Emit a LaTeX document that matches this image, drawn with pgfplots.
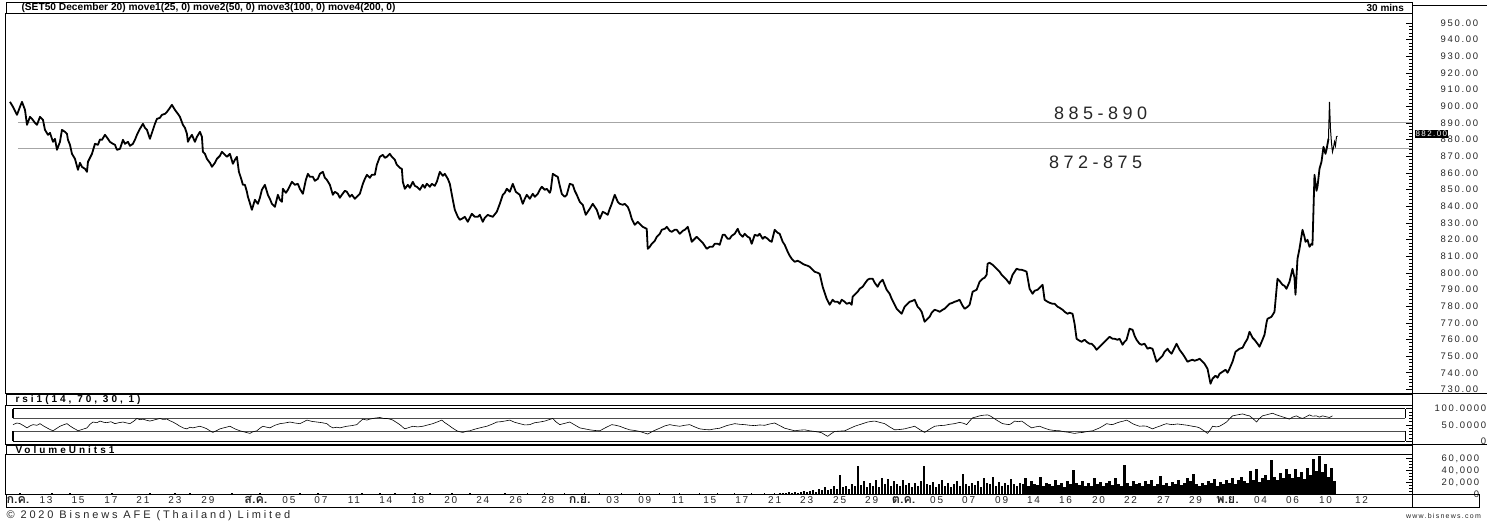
\documentclass[border=0pt]{standalone}
\usepackage{pgfplots}
\pgfplotsset{compat=1.18}
\usepackage{fontspec}
\setmainfont{Liberation Sans}
\newfontfamily\spfont[LetterSpace=18]{Liberation Sans}
\newfontfamily\cpfont[LetterSpace=26]{Liberation Sans}
\newfontfamily\hdfont[LetterSpace=30]{Liberation Sans}
\newfontfamily\bigfont[LetterSpace=25]{Liberation Sans}
\newfontfamily\thaifont[Script=Thai]{Loma}
\newcommand{\thm}[1]{{\thaifont\bfseries\fontsize{12.5}{12}\selectfont #1}}
\pgfplotsset{panel/.style={scale only axis, anchor=north west, width=1407pt, xmin=6, xmax=1413,
  axis line style={line width=1pt}, tick align=inside, ytick pos=right, yticklabel pos=right,
  xtick=\empty, scaled y ticks=false, /pgf/number format/assume math mode=true,
  yticklabel style={anchor=east, inner sep=0pt, font=\spfont\fontsize{9.5}{10}\selectfont, text=black!85},
  major tick length=6pt, minor tick length=3pt, tick style={black, line width=0.5pt}}}
\begin{document}
\begin{tikzpicture}
\path (0pt,0pt) rectangle (1488pt,-522pt);
% ---------- price panel ----------
\begin{axis}[panel, at={(6pt,-12pt)}, height=380pt, ymin=727.4, ymax=955.4,
  ytick={730,740,...,950}, minor y tick num=4,
  yticklabel={\pgfmathprintnumber[fixed,fixed zerofill,precision=2,1000 sep={}]{\tick}},
  yticklabel style={xshift=66pt}]
\addplot[gray!70, line width=0.8pt] coordinates {(18,890)(1413,890)};
\addplot[gray!70, line width=0.8pt] coordinates {(18,874.5)(1413,874.5)};
\addplot[black, line width=1.8pt, line join=round] coordinates {
(10,902.6)(13,899.6)(17,894.8)(20,899.6)(22,902.6)(25,897.8)(27,888.8)(30,893.6)(32,892.4)(35,890.0)
(37,888.8)(40,893.6)(43,891.8)(45,885.8)(48,882.8)(50,884.0)(53,878.6)(55,880.4)(57,873.8)(60,878.6)
(62,885.8)(65,884.6)(67,883.4)(68,879.8)(70,876.8)(72,871.4)(75,868.4)(78,861.8)(80,866.0)(82,863.6)
(85,862.4)(87,860.6)(88,866.6)(90,869.0)(92,871.4)(95,877.4)(98,876.8)(100,880.0)(102,879.8)(105,882.8)
(108,880.4)(110,878.6)(113,877.4)(115,876.8)(117,873.8)(120,874.4)(123,879.8)(125,877.4)(128,878.6)(130,876.2)
(133,877.4)(135,879.8)(137,882.8)(140,886.4)(143,889.4)(145,887.0)(147,885.8)(150,880.4)(153,885.8)(155,889.4)
(157,892.4)(160,893.0)(162,894.8)(165,895.4)(167,896.6)(170,899.0)(172,900.8)(175,897.8)(178,895.4)(180,893.6)
(183,888.8)(185,887.0)(187,883.4)(188,878.6)(190,881.0)(192,882.8)(195,878.6)(197,881.6)(200,884.6)(202,881.6)
(203,872.6)(205,871.4)(207,868.4)(210,866.0)(212,863.6)(215,866.0)(217,868.4)(220,870.2)(222,872.6)(225,870.8)
(227,869.6)(230,871.4)(233,865.4)(235,867.8)(237,869.6)(239,860.6)(241,857.0)(243,852.8)(245,852.8)(247,848.6)
(248,845.6)(249,843.8)(252,837.8)(255,843.8)(258,841.4)(260,845.0)(262,849.8)(265,852.8)(268,846.8)(270,844.4)
(272,841.4)(275,839.6)(278,846.8)(280,843.8)(282,842.6)(283,850.4)(286,848.0)(288,849.8)(290,852.2)(292,854.6)
(295,852.8)(298,853.4)(300,850.4)(303,847.4)(306,855.8)(308,859.4)(310,857.6)(313,857.6)(315,855.2)(318,856.4)
(320,859.4)(323,860.6)(325,857.0)(327,855.8)(330,852.8)(333,846.8)(335,848.6)(338,847.4)(340,845.0)(342,846.8)
(345,849.2)(347,848.6)(350,845.6)(352,846.8)(355,844.4)(357,845.6)(360,847.4)(363,853.4)(365,856.4)(367,858.8)
(370,857.0)(372,858.8)(375,858.8)(377,864.8)(380,869.6)(383,870.8)(385,869.0)(387,869.6)(390,871.4)(392,869.6)
(395,867.8)(397,864.8)(400,863.0)(402,862.4)(403,854.6)(405,850.4)(408,852.8)(410,851.0)(413,854.6)(415,852.2)
(417,851.6)(420,849.8)(423,852.8)(425,851.0)(427,853.4)(430,851.6)(432,853.4)(435,852.2)(437,854.6)(440,860.6)
(443,858.2)(445,859.4)(448,856.4)(450,853.4)(453,843.8)(455,837.8)(458,833.6)(460,831.8)(462,832.4)(465,833.6)
(468,830.6)(470,833.0)(472,835.4)(475,833.6)(478,833.6)(480,834.8)(483,830.6)(485,833.0)(488,834.8)(490,834.2)
(493,833.6)(497,836.6)(500,841.4)(503,846.8)(505,848.0)(507,850.4)(510,848.6)(513,853.4)(516,848.6)(520,846.8)
(523,841.4)(525,844.4)(527,846.8)(530,844.4)(533,847.4)(535,845.6)(538,847.4)(540,849.8)(542,851.6)(545,849.8)
(547,850.4)(550,848.0)(551,849.8)(553,859.4)(556,858.2)(558,857.6)(560,852.2)(562,847.4)(565,845.6)(567,846.8)
(570,853.4)(573,852.8)(575,849.2)(577,846.8)(580,842.6)(583,840.8)(586,834.8)(588,836.6)(590,838.4)(593,841.4)
(595,839.6)(597,837.8)(600,832.4)(603,836.6)(605,836.0)(608,834.8)(610,838.4)(612,841.4)(615,846.8)(618,842.6)
(620,841.4)(623,840.8)(625,841.4)(628,839.6)(630,836.6)(632,832.4)(635,828.8)(638,830.6)(640,829.4)(643,827.6)
(647,826.4)(648,814.4)(650,815.6)(652,817.4)(655,819.2)(657,821.6)(660,823.4)(662,825.8)(665,826.4)(667,827.6)
(670,825.2)(672,824.6)(675,825.8)(677,825.8)(680,823.4)(683,825.2)(685,825.8)(688,827.6)(690,823.4)(692,818.6)
(695,820.4)(697,821.6)(700,819.8)(703,818.0)(707,814.4)(710,815.6)(713,815.6)(715,817.4)(718,817.4)(720,816.8)
(723,822.8)(725,822.8)(728,820.4)(730,820.4)(732,822.2)(735,823.4)(738,826.4)(740,823.4)(743,821.6)(745,823.4)
(748,821.6)(750,821.0)(752,817.4)(755,822.8)(758,822.2)(760,823.4)(763,820.4)(765,821.6)(768,820.4)(770,819.2)
(772,818.6)(775,825.8)(778,824.0)(780,823.4)(783,818.6)(785,816.8)(788,812.6)(790,810.2)(792,808.4)(795,806.6)
(798,807.2)(800,806.6)(803,805.4)(805,804.8)(808,804.2)(810,803.6)(813,801.8)(815,800.6)(818,800.0)(820,799.4)
(823,791.6)(825,788.0)(827,784.4)(830,780.8)(833,783.8)(835,782.6)(838,782.6)(840,781.4)(842,783.8)(845,782.6)
(847,781.4)(850,782.0)(852,780.8)(853,785.6)(855,786.8)(858,788.6)(860,790.4)(863,791.6)(865,793.4)(868,795.8)
(870,796.4)(873,796.4)(875,794.0)(878,791.6)(880,794.0)(883,795.8)(885,792.8)(887,789.8)(890,787.4)(892,784.4)
(895,780.8)(897,778.4)(900,776.6)(902,775.4)(905,779.6)(908,781.4)(910,782.6)(913,783.2)(915,783.8)(918,779.6)
(920,778.4)(922,776.6)(925,770.6)(927,771.8)(930,773.6)(932,776.0)(935,777.8)(938,777.2)(940,776.6)(943,777.8)
(945,778.4)(948,780.2)(950,781.4)(953,782.0)(955,782.6)(958,783.2)(960,783.8)(963,780.2)(965,778.4)(968,779.6)
(970,780.8)(973,788.6)(975,789.2)(977,789.8)(980,794.6)(983,796.4)(985,797.0)(987,798.8)(988,805.4)(990,806.0)
(993,804.8)(995,803.6)(998,801.8)(1000,800.6)(1002,798.8)(1005,797.0)(1007,795.8)(1010,793.4)(1013,798.8)(1015,800.6)
(1017,802.4)(1020,801.8)(1022,801.8)(1025,801.2)(1027,800.6)(1030,790.4)(1033,787.4)(1035,789.2)(1038,789.8)(1040,791.0)
(1043,792.8)(1045,783.8)(1048,782.6)(1050,782.0)(1053,781.4)(1055,781.4)(1058,779.6)(1060,779.0)(1063,777.8)(1065,776.6)
(1068,775.4)(1070,776.0)(1073,775.4)(1075,769.4)(1077,760.4)(1080,759.2)(1082,758.6)(1085,759.8)(1087,758.6)(1090,757.4)
(1092,757.4)(1095,755.6)(1097,753.8)(1100,755.6)(1102,756.8)(1105,758.6)(1108,760.4)(1110,761.6)(1113,760.4)(1115,760.4)
(1118,759.8)(1120,760.4)(1123,756.8)(1125,758.6)(1127,759.8)(1130,766.4)(1133,765.8)(1135,762.2)(1137,759.8)(1140,757.4)
(1142,756.8)(1145,757.4)(1148,754.4)(1150,755.0)(1153,754.4)(1157,746.6)(1160,748.4)(1163,750.2)(1165,752.6)(1168,754.4)
(1170,752.6)(1172,751.4)(1175,755.0)(1177,757.4)(1180,753.8)(1183,751.4)(1185,749.6)(1188,746.6)(1190,747.2)(1193,747.8)
(1195,747.2)(1198,747.8)(1200,748.4)(1203,746.6)(1205,745.4)(1208,742.4)(1211,733.4)(1213,736.4)(1216,738.2)(1218,737.0)
(1220,739.4)(1223,740.6)(1226,741.8)(1228,740.0)(1230,742.4)(1233,746.6)(1236,752.6)(1240,754.4)(1243,755.0)(1245,757.4)
(1248,760.4)(1250,764.6)(1253,761.0)(1255,759.8)(1258,757.4)(1260,755.6)(1263,759.8)(1265,762.8)(1267,770.0)(1268,772.4)
(1272,773.6)(1275,776.6)(1278,796.4)(1280,795.2)(1283,792.8)(1285,792.2)(1287,790.4)(1290,794.6)(1293,802.4)(1295,797.0)
(1296,786.8)(1298,808.4)(1300,814.4)(1303,825.8)(1305,821.6)(1306,818.6)(1308,819.8)(1310,815.6)(1312,817.4)(1313,816.8)
(1314,837.8)(1315,858.8)(1317,849.2)(1318,851.6)(1320,862.4)(1322,866.6)(1324,875.6)(1326,871.4)(1327,873.8)(1329,880.4)};
\addplot[black, line width=1pt] coordinates {(1329,880.4)(1330,902.6)(1331,886.4)(1332,878.0)(1333,872.6)(1334,875.0)(1335,878.6)(1336,876.2)(1337,881.6)(1338,882.0)};
\node[font=\bigfont\fontsize{18}{20}\selectfont, text=black!85] at (axis cs:1101,896) {885-890};
\node[font=\bigfont\fontsize{18}{20}\selectfont, text=black!85] at (axis cs:1096,866.6) {872-875};
\coordinate (lastp) at (axis cs:1413,883.2);
\end{axis}
\node[anchor=west, fill=black, text=white, inner sep=0.9pt, font=\spfont\fontsize{8}{8}\selectfont] at ([xshift=2pt]lastp) {882.00};
% header
\draw[line width=0.8pt] (6pt,-0.5pt) rectangle (1413pt,-12pt);
\draw[line width=0.8pt] (1413pt,-4pt) -- (1488pt,-4pt);
\node[anchor=west, font=\bfseries\fontsize{10.2}{11}\selectfont] at (18pt,-6.2pt) {(SET50 December 20) move1(25, 0) move2(50, 0) move3(100, 0) move4(200, 0)};
\node[anchor=east, font=\bfseries\fontsize{10}{11}\selectfont] at (1408pt,-6.2pt) {30 mins};
% ---------- RSI panel ----------
\begin{axis}[panel, at={(6pt,-404pt)}, height=39pt, ymin=-10.8, ymax=109.2,
  ytick={0,50,100}, yticklabels={0,50.0000,100.0000}, minor y tick num=4,
  yticklabel style={xshift=74pt}]
\addplot[black, line width=0.9pt] coordinates {(13,100)(1406,100)};
\addplot[black!70, line width=0.7pt] coordinates {(13,70)(1406,70)};
\addplot[black!70, line width=0.7pt] coordinates {(13,30)(1406,30)};
\addplot[black, line width=0.9pt] coordinates {(13,0)(1406,0)};
\addplot[black, line width=1.6pt] coordinates {(13,100)(13,70)};
\addplot[black, line width=1.6pt] coordinates {(13,30)(13,0)};
\addplot[black, line width=1.6pt] coordinates {(1406,100)(1406,70)};
\addplot[black, line width=1.6pt] coordinates {(1406,30)(1406,0)};
\addplot[black, line width=0.6pt, line join=round] coordinates {
(13,51)(17,56)(20,54)(24,47)(27,41)(30,47)(33,51)(37,49)(40,54)(44,46)(47,41)(50,36)(53,32)(57,40)(60,46)(64,51)
(67,54)(70,47)(73,41)(76,36)(78,32)(83,37)(87,41)(90,52)(93,59)(97,57)(100,62)(104,58)(107,57)(111,60)(115,54)(119,57)
(123,59)(127,56)(130,54)(134,62)(137,70)(140,66)(143,68)(147,64)(150,62)(155,66)(160,70)(163,67)(167,68)(170,63)
(173,59)(177,52)(180,46)(184,40)(187,38)(190,43)(193,41)(197,44)(200,46)(204,42)(207,38)(210,32)(213,27)(217,33)
(220,38)(225,42)(230,46)(235,38)(240,32)(245,28)(250,24)(253,29)(257,32)(260,40)(263,46)(267,43)(270,41)(275,49)
(280,54)(285,56)(290,59)(295,56)(300,54)(304,60)(307,65)(312,61)(317,59)(322,57)(327,54)(330,46)(333,41)(337,43)
(340,41)(344,44)(347,46)(352,48)(357,51)(360,60)(363,68)(367,65)(370,68)(375,71)(380,73)(384,70)(387,70)(390,68)
(393,65)(397,57)(400,51)(403,43)(405,38)(409,42)(413,46)(418,44)(423,46)(428,50)(433,54)(438,60)(442,65)(445,57)
(448,51)(452,42)(457,32)(460,29)(463,27)(467,31)(470,32)(475,37)(480,41)(484,44)(487,46)(492,52)(497,59)(501,60)
(505,62)(510,65)(515,58)(520,54)(525,50)(530,51)(535,57)(540,59)(545,62)(549,66)(553,70)(556,60)(560,51)(565,55)
(570,59)(575,50)(580,41)(585,38)(590,35)(595,33)(600,32)(606,42)(612,51)(616,49)(620,46)(625,40)(630,35)(635,33)
(640,30)(644,26)(648,22)(654,32)(660,40)(665,47)(670,51)(675,48)(680,46)(685,49)(690,51)(695,44)(700,38)(705,36)
(710,35)(715,38)(720,40)(727,48)(735,54)(740,52)(745,51)(750,49)(755,48)(760,50)(765,49)(770,53)(775,56)(780,48)
(785,40)(790,36)(795,32)(800,34)(805,35)(810,32)(815,30)(819,28)(822,26)(825,20)(828,15)(831,22)(835,30)(840,31)
(845,32)(850,39)(855,46)(861,52)(868,59)(872,61)(875,62)(880,58)(885,54)(890,44)(895,35)(900,36)(905,38)(910,42)
(915,46)(920,36)(925,27)(930,37)(935,46)(940,48)(945,49)(950,52)(955,54)(960,58)(964,55)(967,51)(970,62)(973,72)
(977,75)(980,78)(984,80)(988,81)(991,77)(993,73)(998,63)(1003,54)(1007,52)(1010,51)(1013,57)(1015,62)(1019,60)(1022,62)
(1025,56)(1027,51)(1030,45)(1032,41)(1036,44)(1040,46)(1045,40)(1050,35)(1055,33)(1060,32)(1065,29)(1070,27)(1073,25)
(1075,24)(1079,26)(1083,27)(1088,30)(1093,32)(1097,37)(1100,41)(1104,48)(1107,54)(1110,52)(1113,51)(1117,56)(1120,59)
(1124,62)(1127,65)(1130,60)(1133,54)(1137,49)(1140,46)(1144,47)(1147,46)(1150,42)(1153,38)(1157,43)(1160,46)(1164,51)
(1167,54)(1170,52)(1173,51)(1178,53)(1183,51)(1188,49)(1193,46)(1197,44)(1200,41)(1204,33)(1208,24)(1211,36)(1213,46)
(1217,44)(1220,46)(1224,53)(1227,59)(1230,69)(1233,78)(1238,81)(1243,84)(1247,80)(1250,78)(1254,68)(1257,59)(1260,70)
(1263,78)(1268,82)(1273,86)(1277,81)(1280,78)(1285,73)(1290,68)(1293,74)(1297,78)(1300,73)(1303,70)(1307,76)(1310,81)
(1313,77)(1317,78)(1320,74)(1323,78)(1327,75)(1330,73)(1333,78)};
\end{axis}
\draw[line width=0.8pt, fill=white] (6pt,-393pt) rectangle (1413pt,-403.5pt);
\node[anchor=west, font=\hdfont\bfseries\fontsize{10}{10}\selectfont] at (12pt,-398.2pt) {rsi1(14, 70, 30, 1)};
% ---------- Volume panel ----------
\begin{axis}[panel, at={(6pt,-453pt)}, height=40pt, ymin=0, ymax=66667,
  ytick={0,20000,40000,60000}, minor y tick num=3,
  yticklabel={\pgfmathprintnumber[fixed,precision=0,1000 sep={,}]{\tick}},
  yticklabel style={xshift=67pt},
  xtick={18,46,78,111,143,175,208,256,289,321,354,386,418,451,483,516,548,580,613,645,678,710,742,775,807,840,872,904,937,969,1002,1034,1066,1099,1131,1164,1196,1228,1261,1293,1326,1362},
  xticklabels={\thm{ก.ค.},13,15,17,21,23,29,\thm{ส.ค.},05,07,11,14,18,20,24,26,28,\thm{ก.ย.},03,09,11,15,17,21,23,25,29,\thm{ต.ค.},05,07,09,14,16,20,22,27,29,\thm{พ.ย.},04,06,10,12},
  xticklabel style={font=\spfont\fontsize{10}{11}\selectfont, text=black!85, inner sep=1pt, yshift=-0.5pt, text depth=0pt},
  every major x tick/.append style={draw=none}]
\addplot[fill=black, draw=none] coordinates {(10,0)(10,1200)(780,1200)(780,0)};
\addplot[ycomb, black, line width=1.4pt] coordinates {
(20,2500)(35,1800)(52,2200)(70,2600)(95,1900)(112,2400)(128,1700)(150,2100)(175,2800)(190,2000)
(210,1600)(232,2400)(260,2900)(275,1800)(300,2200)(318,2600)(340,1900)(362,2300)(380,2700)(395,2000)
(415,2400)(430,2800)(452,2200)(470,2600)(490,1900)(505,2300)(528,2500)(545,2000)(565,2800)(585,2300)
(600,2600)(622,3100)(640,2200)(660,2900)(680,2400)(700,3000)(718,3300)(735,2500)(752,2800)(765,3200)(775,3000)};
\addplot[ycomb, black, line width=2.2pt] coordinates {
(780,2000)(783,3000)(786,2000)(789,4000)(792,3000)(795,5000)(798,3000)(801,4000)(804,6000)(807,5000)
(810,6000)(813,8000)(816,5000)(819,9000)(822,7000)(825,12000)(828,8000)(831,10000)(834,14000)(837,9000)
(840,33000)(843,12000)(846,15000)(849,10000)(852,18000)(855,14000)(858,48000)(861,16000)(864,22000)(867,13000)
(870,20000)(873,15000)(876,25000)(879,12000)(882,28000)(885,18000)(888,26000)(891,15000)(894,22000)(897,17000)
(900,14000)(903,24000)(906,16000)(909,20000)(912,13000)(915,19000)(918,15000)(921,22000)(924,47000)(927,18000)
(930,16000)(933,21000)(936,12000)(939,18000)(942,24000)(945,15000)(948,19000)(951,13000)(954,17000)(957,22000)
(960,15000)(963,34000)(966,18000)(969,14000)(972,20000)(975,16000)(978,22000)(981,13000)(984,28000)(987,19000)
(990,17000)(993,30000)(996,15000)(999,21000)(1002,14000)(1005,19000)(1008,16000)(1011,26000)(1014,18000)(1017,14000)
(1020,20000)(1023,17000)(1026,27000)(1029,15000)(1032,22000)(1035,18000)(1038,16000)(1041,29000)(1044,14000)(1047,20000)
(1050,18000)(1053,15000)(1056,24000)(1059,16000)(1062,19000)(1065,13000)(1068,22000)(1071,17000)(1074,41000)(1077,19000)
(1080,16000)(1083,23000)(1086,15000)(1089,20000)(1092,14000)(1095,28000)(1098,17000)(1101,21000)(1104,15000)(1107,19000)
(1110,22000)(1113,16000)(1116,27000)(1119,18000)(1122,15000)(1125,50000)(1128,20000)(1131,14000)(1134,23000)(1137,17000)
(1140,19000)(1143,15000)(1146,22000)(1149,17000)(1152,25000)(1155,14000)(1158,18000)(1161,31000)(1164,16000)(1167,20000)
(1170,15000)(1173,21000)(1176,17000)(1179,24000)(1182,16000)(1185,19000)(1188,28000)(1191,22000)(1194,34000)(1197,18000)
(1200,14000)(1203,20000)(1206,16000)(1209,23000)(1212,19000)(1215,26000)(1218,15000)(1221,21000)(1224,18000)(1227,24000)
(1230,20000)(1233,27000)(1236,18000)(1239,25000)(1242,30000)(1245,22000)(1248,19000)(1251,40000)(1254,24000)(1257,43000)
(1260,21000)(1263,28000)(1266,33000)(1269,25000)(1272,58000)(1275,30000)(1278,24000)(1281,36000)(1284,27000)(1287,42000)
(1290,35000)(1293,28000)(1296,43000)(1299,30000)(1302,38000)(1305,26000)(1308,45000)(1311,33000)(1314,60000)(1317,40000)
(1320,65000)(1323,38000)(1326,52000)(1329,30000)(1332,44000)(1335,22000)};
\end{axis}
\draw[line width=0.8pt, fill=white] (6pt,-444pt) rectangle (1413pt,-453pt);
\node[anchor=west, font=\hdfont\bfseries\fontsize{10}{10}\selectfont] at (12pt,-448.6pt) {VolumeUnits1};
% separators and bottom band
\draw[line width=1.2pt] (1413pt,-392pt) -- (1488pt,-392pt);
\draw[line width=1.2pt] (1413pt,-443pt) -- (1488pt,-443pt);
\draw[line width=0.8pt] (6pt,-493pt) rectangle (1413pt,-506pt);
\draw[line width=0.8pt] (1413pt,-493pt) rectangle (1480pt,-506pt);
\node[anchor=west, font=\cpfont\fontsize{11}{12}\selectfont, text=black!85] at (3pt,-514pt) {© 2020 Bisnews AFE (Thailand) Limited};
\node[anchor=east, font=\spfont\fontsize{7}{8}\selectfont, text=black!85] at (1485pt,-514pt) {www.bisnews.com};
\end{tikzpicture}
\end{document}
